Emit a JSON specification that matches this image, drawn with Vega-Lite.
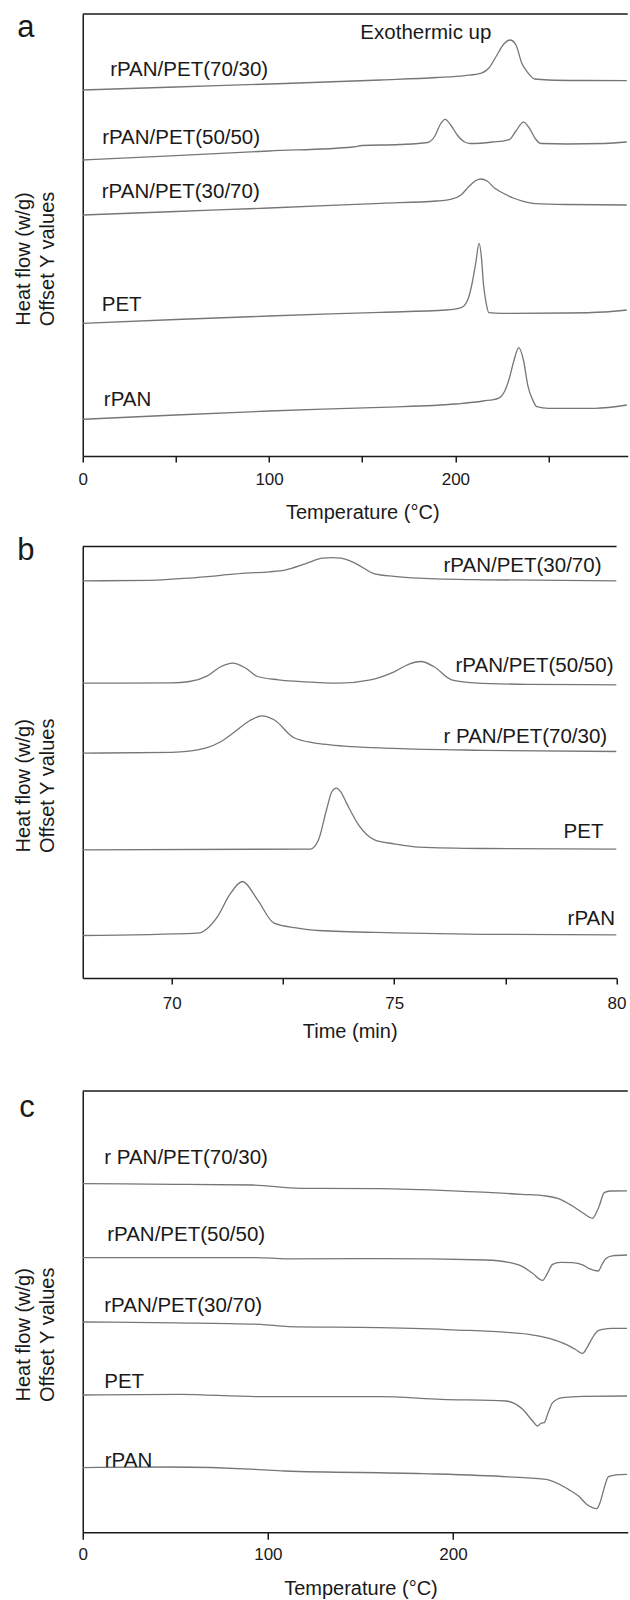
{
  "$schema": "https://vega.github.io/schema/vega-lite/v6.json",
  "padding": {"left": 13.75, "top": 12, "right": 0, "bottom": 0},
  "background": "white",
  "spacing": 11.5,
  "config": {
    "font": "Liberation Sans",
    "view": {"stroke": null},
    "axis": {"grid": false, "domainColor": "#1a1a1a", "domainWidth": 1.5, "tickColor": "#1a1a1a", "tickWidth": 1.5, "labelColor": "#1a1a1a", "titleColor": "#1a1a1a", "labelFont": "Liberation Sans", "titleFont": "Liberation Sans", "labelFontSize": 17, "titleFontSize": 20, "titleFontWeight": "normal", "labelFlush": false, "labelOverlap": false},
    "axisY": {"ticks": false, "labels": false, "titleAngle": 270, "titleBaseline": "bottom", "titleAlign": "center", "titlePadding": 25, "titleLineHeight": 24}
  },
  "datasets": {
    "top": [{"v": 100}],
    "aLetter": [{"t": -35.2, "v": 94.79, "label": "a"}],
    "bLetter": [{"t": 66.53, "v": 96.92, "label": "b"}],
    "cLetter": [{"t": -34.3, "v": 94.04, "label": "c"}],
    "aLines": [
      {"s":"70/30","t":0,"v":82.8},{"s":"70/30","t":50,"v":83.48},{"s":"70/30","t":100,"v":84.16},{"s":"70/30","t":160,"v":85.07},{"s":"70/30","t":190,"v":85.63},{"s":"70/30","t":205,"v":86.08},{"s":"70/30","t":214,"v":86.65},{"s":"70/30","t":218,"v":87.78},{"s":"70/30","t":222,"v":90.5},{"s":"70/30","t":226,"v":93.21},{"s":"70/30","t":229.4,"v":94.12},{"s":"70/30","t":232.5,"v":92.99},{"s":"70/30","t":235.6,"v":88.91},{"s":"70/30","t":239,"v":86.65},{"s":"70/30","t":242.6,"v":85.29},{"s":"70/30","t":250,"v":85.07},{"s":"70/30","t":270,"v":84.95},{"s":"70/30","t":292,"v":84.91},
      {"s":"50/50","t":0,"v":66.97},{"s":"50/50","t":50,"v":67.98},{"s":"50/50","t":100,"v":69.0},{"s":"50/50","t":145,"v":69.91},{"s":"50/50","t":150,"v":70.25},{"s":"50/50","t":170,"v":70.47},{"s":"50/50","t":185,"v":70.93},{"s":"50/50","t":189,"v":72.4},{"s":"50/50","t":192,"v":75.11},{"s":"50/50","t":194.5,"v":76.17},{"s":"50/50","t":197.5,"v":74.89},{"s":"50/50","t":201,"v":72.62},{"s":"50/50","t":204.5,"v":71.15},{"s":"50/50","t":208,"v":70.7},{"s":"50/50","t":220,"v":71.04},{"s":"50/50","t":229,"v":71.6},{"s":"50/50","t":232.5,"v":73.53},{"s":"50/50","t":236.5,"v":75.56},{"s":"50/50","t":240,"v":73.98},{"s":"50/50","t":243,"v":71.72},{"s":"50/50","t":246,"v":70.7},{"s":"50/50","t":260,"v":70.59},{"s":"50/50","t":280,"v":70.7},{"s":"50/50","t":292,"v":71.04},
      {"s":"30/70","t":0,"v":54.52},{"s":"30/70","t":50,"v":55.32},{"s":"30/70","t":100,"v":56.11},{"s":"30/70","t":160,"v":57.17},{"s":"30/70","t":190,"v":57.69},{"s":"30/70","t":198,"v":58.14},{"s":"30/70","t":203,"v":59.05},{"s":"30/70","t":207,"v":60.86},{"s":"30/70","t":211,"v":62.33},{"s":"30/70","t":213.8,"v":62.67},{"s":"30/70","t":217,"v":62.22},{"s":"30/70","t":221,"v":60.63},{"s":"30/70","t":226.5,"v":59.27},{"s":"30/70","t":231,"v":58.37},{"s":"30/70","t":236,"v":57.69},{"s":"30/70","t":243,"v":57.12},{"s":"30/70","t":260,"v":56.9},{"s":"30/70","t":292,"v":56.79},
      {"s":"PET","t":0,"v":30.02},{"s":"PET","t":50,"v":30.88},{"s":"PET","t":100,"v":31.67},{"s":"PET","t":160,"v":32.51},{"s":"PET","t":195,"v":33.03},{"s":"PET","t":203.4,"v":33.64},{"s":"PET","t":207,"v":35.75},{"s":"PET","t":209,"v":39.14},{"s":"PET","t":211,"v":43.89},{"s":"PET","t":212.7,"v":48.12},{"s":"PET","t":214,"v":44.8},{"s":"PET","t":215,"v":39.14},{"s":"PET","t":216.5,"v":34.61},{"s":"PET","t":218,"v":32.42},{"s":"PET","t":225,"v":32.28},{"s":"PET","t":260,"v":32.35},{"s":"PET","t":280,"v":32.58},{"s":"PET","t":292,"v":33.03},
      {"s":"rPAN","t":0,"v":8.3},{"s":"rPAN","t":50,"v":9.28},{"s":"rPAN","t":100,"v":10.18},{"s":"rPAN","t":160,"v":11.02},{"s":"rPAN","t":200,"v":11.76},{"s":"rPAN","t":215,"v":12.44},{"s":"rPAN","t":223,"v":13.05},{"s":"rPAN","t":226.5,"v":14.71},{"s":"rPAN","t":229,"v":17.65},{"s":"rPAN","t":231.5,"v":21.72},{"s":"rPAN","t":234,"v":24.5},{"s":"rPAN","t":236.5,"v":21.72},{"s":"rPAN","t":239,"v":15.68},{"s":"rPAN","t":241.5,"v":12.67},{"s":"rPAN","t":243.7,"v":11.15},{"s":"rPAN","t":250,"v":10.79},{"s":"rPAN","t":275,"v":10.79},{"s":"rPAN","t":292,"v":11.54}
    ],
    "aLabels": [
      {"t":14.7,"v":87.3,"label":"rPAN/PET(70/30)"},
      {"t":10.4,"v":71.9,"label":"rPAN/PET(50/50)"},
      {"t":10.2,"v":59.7,"label":"rPAN/PET(30/70)"},
      {"t":10.2,"v":34.1,"label":"PET"},
      {"t":11.3,"v":12.6,"label":"rPAN"},
      {"t":149,"v":95.66,"label":"Exothermic up"}
    ],
    "bLines": [
      {"s":"30/70","t":68,"v":92.05},{"s":"30/70","t":69.5,"v":92.17},{"s":"30/70","t":70.4,"v":92.68},{"s":"30/70","t":71.0,"v":93.21},{"s":"30/70","t":71.66,"v":93.84},{"s":"30/70","t":72.2,"v":94.14},{"s":"30/70","t":72.57,"v":94.6},{"s":"30/70","t":73.0,"v":95.99},{"s":"30/70","t":73.4,"v":97.31},{"s":"30/70","t":73.6,"v":97.4},{"s":"30/70","t":73.8,"v":97.31},{"s":"30/70","t":74.15,"v":95.99},{"s":"30/70","t":74.56,"v":93.68},{"s":"30/70","t":75.0,"v":93.1},{"s":"30/70","t":75.56,"v":92.68},{"s":"30/70","t":77,"v":92.29},{"s":"30/70","t":80,"v":92.05},
      {"s":"50/50","t":68,"v":68.35},{"s":"50/50","t":70.0,"v":68.42},{"s":"50/50","t":70.4,"v":68.72},{"s":"50/50","t":70.8,"v":70.04},{"s":"50/50","t":71.1,"v":72.13},{"s":"50/50","t":71.37,"v":72.99},{"s":"50/50","t":71.65,"v":71.9},{"s":"50/50","t":71.93,"v":69.88},{"s":"50/50","t":72.4,"v":69.12},{"s":"50/50","t":73.0,"v":68.65},{"s":"50/50","t":73.74,"v":68.35},{"s":"50/50","t":74.47,"v":69.12},{"s":"50/50","t":75.0,"v":70.97},{"s":"50/50","t":75.35,"v":72.82},{"s":"50/50","t":75.6,"v":73.36},{"s":"50/50","t":75.9,"v":72.13},{"s":"50/50","t":76.29,"v":69.12},{"s":"50/50","t":76.8,"v":68.42},{"s":"50/50","t":78,"v":68.07},{"s":"50/50","t":80,"v":67.96},
      {"s":"70/30","t":68,"v":52.13},{"s":"70/30","t":70.0,"v":52.32},{"s":"70/30","t":70.76,"v":53.29},{"s":"70/30","t":71.1,"v":54.75},{"s":"70/30","t":71.39,"v":56.84},{"s":"70/30","t":71.75,"v":59.62},{"s":"70/30","t":72.03,"v":60.77},{"s":"70/30","t":72.3,"v":59.85},{"s":"70/30","t":72.75,"v":55.68},{"s":"70/30","t":73.2,"v":54.52},{"s":"70/30","t":73.56,"v":54.06},{"s":"70/30","t":75,"v":53.24},{"s":"70/30","t":77,"v":52.78},{"s":"70/30","t":80,"v":52.5},
      {"s":"PET","t":68,"v":29.73},{"s":"PET","t":73.12,"v":29.89},{"s":"PET","t":73.3,"v":32.04},{"s":"PET","t":73.48,"v":39.0},{"s":"PET","t":73.6,"v":43.17},{"s":"PET","t":73.7,"v":44.02},{"s":"PET","t":73.8,"v":43.17},{"s":"PET","t":73.93,"v":40.55},{"s":"PET","t":74.2,"v":35.52},{"s":"PET","t":74.56,"v":32.04},{"s":"PET","t":75.0,"v":31.12},{"s":"PET","t":75.56,"v":30.35},{"s":"PET","t":77,"v":30.03},{"s":"PET","t":80,"v":29.89},
      {"s":"rPAN","t":68,"v":9.87},{"s":"rPAN","t":70.58,"v":10.43},{"s":"rPAN","t":71.03,"v":14.27},{"s":"rPAN","t":71.3,"v":19.3},{"s":"rPAN","t":71.59,"v":22.38},{"s":"rPAN","t":71.93,"v":18.14},{"s":"rPAN","t":72.3,"v":12.74},{"s":"rPAN","t":72.8,"v":11.65},{"s":"rPAN","t":73.29,"v":11.03},{"s":"rPAN","t":75,"v":10.5},{"s":"rPAN","t":77,"v":10.15},{"s":"rPAN","t":80,"v":10.03}
    ],
    "bLabels": [
      {"t":76.11,"v":95.5,"label":"rPAN/PET(30/70)"},
      {"t":76.38,"v":72.3,"label":"rPAN/PET(50/50)"},
      {"t":76.11,"v":55.9,"label":"r PAN/PET(70/30)"},
      {"t":78.81,"v":33.85,"label":"PET"},
      {"t":78.9,"v":13.7,"label":"rPAN"}
    ],
    "cLines": [
      {"s":"70/30","t":0,"v":79.02},{"s":"70/30","t":50,"v":78.86},{"s":"70/30","t":91.6,"v":78.7},{"s":"70/30","t":117.5,"v":77.95},{"s":"70/30","t":160,"v":77.88},{"s":"70/30","t":200,"v":77.38},{"s":"70/30","t":237,"v":76.59},{"s":"70/30","t":250.2,"v":76.21},{"s":"70/30","t":258,"v":75.46},{"s":"70/30","t":264.5,"v":73.94},{"s":"70/30","t":270,"v":72.4},{"s":"70/30","t":275.4,"v":71.15},{"s":"70/30","t":277.5,"v":72.51},{"s":"70/30","t":279,"v":73.94},{"s":"70/30","t":281.7,"v":76.98},{"s":"70/30","t":285,"v":77.34},{"s":"70/30","t":294,"v":77.38},
      {"s":"50/50","t":0,"v":62.25},{"s":"50/50","t":93.7,"v":62.25},{"s":"50/50","t":110,"v":61.98},{"s":"50/50","t":160,"v":62.02},{"s":"50/50","t":217.8,"v":61.7},{"s":"50/50","t":230,"v":61.18},{"s":"50/50","t":237.6,"v":60.21},{"s":"50/50","t":243,"v":58.69},{"s":"50/50","t":248.4,"v":57.1},{"s":"50/50","t":251,"v":58.69},{"s":"50/50","t":253.8,"v":60.73},{"s":"50/50","t":258,"v":61.18},{"s":"50/50","t":264.6,"v":61.11},{"s":"50/50","t":270,"v":60.62},{"s":"50/50","t":273.6,"v":59.75},{"s":"50/50","t":278.5,"v":59.21},{"s":"50/50","t":280.5,"v":60.73},{"s":"50/50","t":282.6,"v":62.02},{"s":"50/50","t":286,"v":62.65},{"s":"50/50","t":294,"v":62.84},
      {"s":"30/70","t":0,"v":47.65},{"s":"30/70","t":50,"v":47.47},{"s":"30/70","t":96,"v":47.13},{"s":"30/70","t":111,"v":46.61},{"s":"30/70","t":160,"v":46.38},{"s":"30/70","t":200,"v":45.89},{"s":"30/70","t":241,"v":44.87},{"s":"30/70","t":252,"v":43.96},{"s":"30/70","t":261,"v":42.6},{"s":"30/70","t":266,"v":41.47},{"s":"30/70","t":270,"v":40.56},{"s":"30/70","t":272.5,"v":41.92},{"s":"30/70","t":275.4,"v":44.12},{"s":"30/70","t":278,"v":45.55},{"s":"30/70","t":280.8,"v":46.0},{"s":"30/70","t":286,"v":46.23},{"s":"30/70","t":294,"v":46.23},
      {"s":"PET","t":0,"v":31.11},{"s":"PET","t":52.5,"v":31.27},{"s":"PET","t":93.7,"v":30.75},{"s":"PET","t":160,"v":30.75},{"s":"PET","t":193.6,"v":30.14},{"s":"PET","t":228.6,"v":29.75},{"s":"PET","t":237.6,"v":27.87},{"s":"PET","t":243,"v":25.22},{"s":"PET","t":245.7,"v":24.09},{"s":"PET","t":247.5,"v":24.7},{"s":"PET","t":249.3,"v":24.86},{"s":"PET","t":251.5,"v":27.19},{"s":"PET","t":253.8,"v":29.39},{"s":"PET","t":259.2,"v":30.52},{"s":"PET","t":270,"v":30.82},{"s":"PET","t":294,"v":30.89},
      {"s":"rPAN","t":0,"v":14.66},{"s":"rPAN","t":46,"v":14.8},{"s":"rPAN","t":93.4,"v":14.28},{"s":"rPAN","t":109,"v":13.89},{"s":"rPAN","t":183.7,"v":13.3},{"s":"rPAN","t":230,"v":12.58},{"s":"rPAN","t":250.4,"v":12.01},{"s":"rPAN","t":262.3,"v":9.74},{"s":"rPAN","t":268,"v":8.16},{"s":"rPAN","t":272.2,"v":6.34},{"s":"rPAN","t":277.7,"v":5.37},{"s":"rPAN","t":279.5,"v":6.8},{"s":"rPAN","t":281,"v":9.0},{"s":"rPAN","t":284,"v":12.62},{"s":"rPAN","t":288,"v":13.03},{"s":"rPAN","t":294,"v":13.14}
    ],
    "cLabels": [
      {"t":11.6,"v":84.93,"label":"r PAN/PET(70/30)"},
      {"t":13.2,"v":67.48,"label":"rPAN/PET(50/50)"},
      {"t":11.6,"v":51.17,"label":"rPAN/PET(30/70)"},
      {"t":11.6,"v":34.17,"label":"PET"},
      {"t":11.9,"v":16.05,"label":"rPAN"}
    ]
  },
  "vconcat": [
    {
      "width": 545,
      "height": 442,
      "layer": [
        {
          "data": {"name": "aLines"},
          "mark": {"type": "line", "color": "#767676", "strokeWidth": 1.3, "interpolate": "monotone", "clip": true},
          "encoding": {
            "x": {"field": "t", "type": "quantitative", "scale": {"domain": [0, 292.5], "nice": false, "zero": false},
                  "axis": {"title": "Temperature (°C)", "values": [0, 50, 100, 150, 200, 250], "format": "d", "labelExpr": "datum.value % 100 == 0 ? datum.label : ''", "tickSize": 6, "labelPadding": 9, "titlePadding": 15.5, "titleX": 279.5}},
            "y": {"field": "v", "type": "quantitative", "scale": {"domain": [0, 100], "nice": false, "zero": false},
                  "axis": {"title": ["Heat flow (w/g)", "Offset Y values"], "titleY": 244.5}},
            "detail": {"field": "s"}
          }
        },
        {
          "data": {"name": "aLabels"},
          "mark": {"type": "text", "align": "left", "baseline": "middle", "fontSize": 20.5, "color": "#1a1a1a", "font": "Liberation Sans"},
          "encoding": {"x": {"field": "t", "type": "quantitative"}, "y": {"field": "v", "type": "quantitative"}, "text": {"field": "label"}}
        },
        {
          "data": {"name": "aLetter"},
          "mark": {"type": "text", "align": "left", "baseline": "alphabetic", "fontSize": 31, "color": "#1a1a1a", "font": "Liberation Sans"},
          "encoding": {"x": {"field": "t", "type": "quantitative"}, "y": {"field": "v", "type": "quantitative"}, "text": {"field": "label"}}
        },
        {
          "data": {"name": "top"},
          "mark": {"type": "rule", "color": "#1a1a1a", "strokeWidth": 1.5},
          "encoding": {"y": {"field": "v", "type": "quantitative"}}
        }
      ]
    },
    {
      "width": 533.8,
      "height": 431.6,
      "layer": [
        {
          "data": {"name": "bLines"},
          "mark": {"type": "line", "color": "#767676", "strokeWidth": 1.3, "interpolate": "monotone", "clip": true},
          "encoding": {
            "x": {"field": "t", "type": "quantitative", "scale": {"domain": [68, 80], "nice": false, "zero": false},
                  "axis": {"title": ["Time (min)", ""], "titleLineHeight": 36, "values": [70, 72.5, 75, 77.5, 80], "format": "d", "labelExpr": "datum.value % 5 == 0 ? datum.label : ''", "tickSize": 6, "labelPadding": 11, "titlePadding": 10.8}},
            "y": {"field": "v", "type": "quantitative", "scale": {"domain": [0, 100], "nice": false, "zero": false},
                  "axis": {"title": ["Heat flow (w/g)", "Offset Y values"], "titleY": 238.8}},
            "detail": {"field": "s"}
          }
        },
        {
          "data": {"name": "bLabels"},
          "mark": {"type": "text", "align": "left", "baseline": "middle", "fontSize": 20.5, "color": "#1a1a1a", "font": "Liberation Sans"},
          "encoding": {"x": {"field": "t", "type": "quantitative"}, "y": {"field": "v", "type": "quantitative"}, "text": {"field": "label"}}
        },
        {
          "data": {"name": "bLetter"},
          "mark": {"type": "text", "align": "left", "baseline": "alphabetic", "fontSize": 31, "color": "#1a1a1a", "font": "Liberation Sans"},
          "encoding": {"x": {"field": "t", "type": "quantitative"}, "y": {"field": "v", "type": "quantitative"}, "text": {"field": "label"}}
        },
        {
          "data": {"name": "top"},
          "mark": {"type": "rule", "color": "#1a1a1a", "strokeWidth": 1.5},
          "encoding": {"y": {"field": "v", "type": "quantitative"}}
        },
        {
          "mark": {"type": "rule", "color": "#1a1a1a", "strokeWidth": 1.5},
          "encoding": {"x": {"datum": 80}}
        }
      ]
    },
    {
      "width": 545,
      "height": 441.3,
      "layer": [
        {
          "data": {"name": "cLines"},
          "mark": {"type": "line", "color": "#767676", "strokeWidth": 1.3, "interpolate": "monotone", "clip": true},
          "encoding": {
            "x": {"field": "t", "type": "quantitative", "scale": {"domain": [0, 294.4], "nice": false, "zero": false},
                  "axis": {"title": "Temperature (°C)", "values": [0, 100, 200], "format": "d", "tickSize": 7, "labelPadding": 7, "titlePadding": 16, "titleX": 277.7}},
            "y": {"field": "v", "type": "quantitative", "scale": {"domain": [0, 100], "nice": false, "zero": false},
                  "axis": {"title": ["Heat flow (w/g)", "Offset Y values"], "titleY": 243.3}},
            "detail": {"field": "s"}
          }
        },
        {
          "data": {"name": "cLabels"},
          "mark": {"type": "text", "align": "left", "baseline": "middle", "fontSize": 20.5, "color": "#1a1a1a", "font": "Liberation Sans"},
          "encoding": {"x": {"field": "t", "type": "quantitative"}, "y": {"field": "v", "type": "quantitative"}, "text": {"field": "label"}}
        },
        {
          "data": {"name": "cLetter"},
          "mark": {"type": "text", "align": "left", "baseline": "alphabetic", "fontSize": 31, "color": "#1a1a1a", "font": "Liberation Sans"},
          "encoding": {"x": {"field": "t", "type": "quantitative"}, "y": {"field": "v", "type": "quantitative"}, "text": {"field": "label"}}
        },
        {
          "data": {"name": "top"},
          "mark": {"type": "rule", "color": "#1a1a1a", "strokeWidth": 1.5},
          "encoding": {"y": {"field": "v", "type": "quantitative"}}
        }
      ]
    }
  ]
}
